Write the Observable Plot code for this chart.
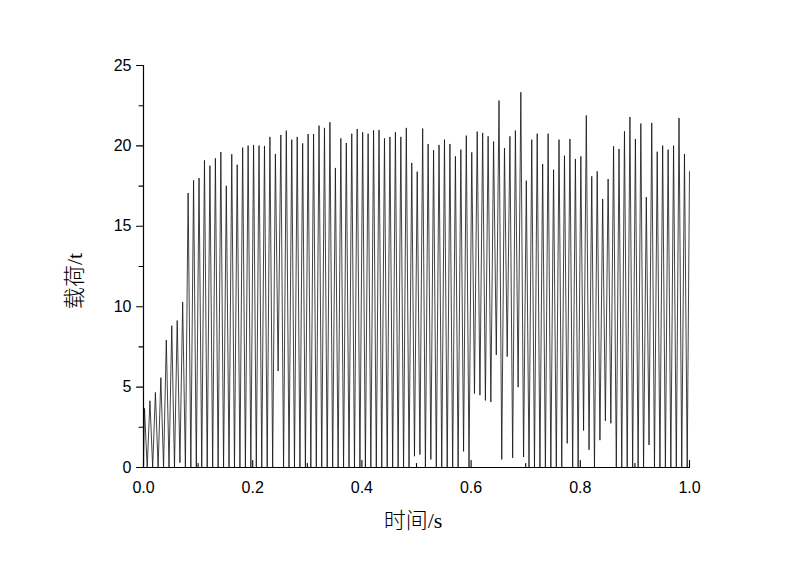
<!DOCTYPE html>
<html>
<head>
<meta charset="utf-8">
<script src="https://cdn.jsdelivr.net/npm/d3@7"></script>
<script src="https://cdn.jsdelivr.net/npm/@observablehq/plot@0.6"></script>
<style>
  html, body { margin: 0; padding: 0; background: #fff; }
  #chart { width: 800px; height: 562px; }
</style>
</head>
<body>
<div id="chart"></div>
<script>
// ---- data ----
// one load cycle roughly every 0.00999 s; first peak at 0.0018 s
const firstPeakTime = 0.0018;
const cyclePeriod = 0.00999;
const startValue = 0;
const endTime = 1.0;
const endValue = 18.4;

// peak load of each cycle (t)
const peakValues = [
  3.68, 4.15, 4.67, 5.59, 7.93, 8.82, 9.14, 10.28, 17.07, 17.86,
  18.0, 19.1, 18.77, 19.23, 19.62, 17.52, 19.48, 18.83, 19.89, 20.02,
  20.06, 20.02, 20.0, 20.56, 19.5, 20.68, 20.95, 20.39, 20.56, 20.16,
  20.74, 20.74, 21.26, 21.12, 21.47, 18.63, 20.47, 20.18, 20.76, 21.05,
  20.85, 20.76, 20.97, 20.99, 20.47, 20.56, 20.85, 20.56, 21.12, 18.94,
  18.4, 21.08, 20.12, 19.73, 20.06, 20.39, 20.12, 19.35, 19.77, 20.64,
  19.6, 20.89, 20.81, 20.6, 20.27, 22.82, 19.87, 20.6, 20.95, 23.34,
  17.84, 20.39, 20.76, 18.87, 20.76, 18.52, 20.39, 19.39, 20.43, 19.19,
  19.35, 21.89, 18.11, 18.42, 16.7, 17.94, 19.98, 19.81, 20.91, 21.8,
  20.43, 21.39, 16.82, 21.43, 19.64, 20.02, 19.77, 20.02, 21.74, 19.5
];

// trough load following each peak (t)
const troughValues = [
  0, 0, 0, 0, 0, 0, 0.3, 0, 0, 0,
  0, 0, 0, 0, 0, 0, 0, 0, 0, 0,
  0, 0, 0, 0, 6.0, 0, 0, 0, 0, 0,
  0, 0, 0, 0, 0, 0, 0, 0, 0, 0,
  0, 0, 0, 0, 0, 0, 0, 0, 0, 0.7,
  0.8, 0, 0.5, 0, 0, 0, 0, 0, 1.0, 0,
  4.6, 4.5, 4.17, 4.07, 7.0, 0.5, 6.9, 0.6, 5.0, 0.65,
  0, 0, 0, 0, 0, 0, 0, 1.5, 0, 0,
  2.3, 1.1, 0, 1.7, 2.9, 2.75, 0, 0, 0, 0,
  0, 0, 1.4, 0, 0, 0, 0, 0, 0, 0
];

const xMajorTicks = [0, 0.2, 0.4, 0.6, 0.8, 1.0];
const xMinorTicks = [0.1, 0.3, 0.5, 0.7, 0.9];
const yMajorTicks = [0, 5, 10, 15, 20, 25];
const yMinorTicks = [2.5, 7.5, 12.5, 17.5, 22.5];

const xTitle = ["时间", "/s"];
const yTitle = ["载荷", "/t"];

// ---- build the series ----
const series = [{t: 0, v: startValue}];
peakValues.forEach((p, k) => {
  const tp = firstPeakTime + k * cyclePeriod;
  series.push({t: tp, v: p});
  series.push({t: tp + cyclePeriod / 2, v: troughValues[k]});
});
series.push({t: endTime, v: endValue});

const tickShape = {draw(context, l) { context.moveTo(0, 0); context.lineTo(0, -l); }};

const chart = Plot.plot({
  width: 800,
  height: 562,
  marginLeft: 143,
  marginRight: 111,
  marginTop: 65,
  marginBottom: 95,
  x: {domain: [0, 1]},
  y: {domain: [0, 25]},
  style: {fontFamily: "'Liberation Sans', Arial, sans-serif", fontSize: "16px", color: "#000", background: "#fff"},
  marks: [
    Plot.line(series, {x: "t", y: "v", stroke: "#111", strokeWidth: 0.8}),
    // axis lines
    Plot.ruleX([0], {stroke: "#000", strokeWidth: 1.2}),
    Plot.ruleY([0], {stroke: "#000", strokeWidth: 1.2}),
    // y ticks pointing outward (left)
    Plot.vector(yMajorTicks, {x: 0, y: d => d, length: 7, rotate: -90, anchor: "start", shape: tickShape, stroke: "#000", strokeWidth: 1.1}),
    Plot.vector(yMinorTicks, {x: 0, y: d => d, length: 4.5, rotate: -90, anchor: "start", shape: tickShape, stroke: "#000", strokeWidth: 1.1}),
    // x ticks pointing inward (up)
    Plot.vector(xMajorTicks, {x: d => d, y: 0, length: 7, rotate: 0, anchor: "start", shape: tickShape, stroke: "#000", strokeWidth: 1.1}),
    Plot.vector(xMinorTicks, {x: d => d, y: 0, length: 4, rotate: 0, anchor: "start", shape: tickShape, stroke: "#000", strokeWidth: 1.1}),
    // labels
    Plot.axisY({ticks: yMajorTicks, tickSize: 0, tickPadding: 12, tickFormat: d => String(d), label: null, fontSize: 16}),
    Plot.axisX({ticks: xMajorTicks, tickSize: 0, tickPadding: 14, tickFormat: d3.format(".1f"), label: null, fontSize: 16})
  ]
});

document.getElementById("chart").appendChild(chart);

const svg = d3.select(chart);
const cjk = "'Noto Sans CJK SC', 'Noto Sans CJK JP', sans-serif";
const latin = "'Liberation Serif', 'DejaVu Serif', serif";

const xt = svg.append("text")
  .attr("x", 413).attr("y", 528)
  .attr("text-anchor", "middle")
  .attr("font-size", 22)
  .attr("fill", "#000");
xt.append("tspan").attr("font-family", cjk).attr("font-weight", 300).text(xTitle[0]);
xt.append("tspan").attr("font-family", latin).text(xTitle[1]);

const yt = svg.append("text")
  .attr("transform", "translate(82,281) rotate(-90)")
  .attr("text-anchor", "middle")
  .attr("font-size", 22)
  .attr("fill", "#000");
yt.append("tspan").attr("font-family", cjk).attr("font-weight", 300).text(yTitle[0]);
yt.append("tspan").attr("font-family", latin).text(yTitle[1]);
</script>
</body>
</html>
